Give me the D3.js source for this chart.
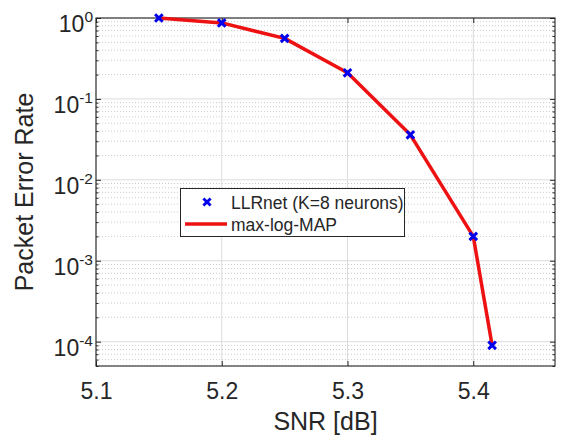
<!DOCTYPE html>
<html>
<head>
<meta charset="utf-8">
<script src="https://cdn.jsdelivr.net/npm/d3@7"></script>
<style>
  html, body { margin: 0; padding: 0; background: #fff; }
  svg { display: block; font-family: "Liberation Sans", Arial, sans-serif; }
</style>
</head>
<body>
<svg id="chart" width="563" height="441"></svg>
<script>
// ---- data ----
const snr = [5.15, 5.2, 5.25, 5.3, 5.35, 5.4, 5.415];
const llrnetPER = [1.0, 0.87, 0.56, 0.21, 0.036, 0.002, 0.00009];
const maxLogMapPER = [1.0, 0.87, 0.56, 0.21, 0.036, 0.002, 0.00009];
const xTicks = [5.1, 5.2, 5.3, 5.4];
const xTickLabels = ["5.1", "5.2", "5.3", "5.4"];
const yTicks = [1, 0.1, 0.01, 0.001, 0.0001];
const yTickExponents = ["0", "-1", "-2", "-3", "-4"];
const seriesNames = ["LLRnet (K=8 neurons)", "max-log-MAP"];
const xLabel = "SNR [dB]";
const yLabel = "Packet Error Rate";

// ---- layout ----
const L = 96, R = 555, T = 18, B = 366;
const axisColor = "#262626";
const svg = d3.select("#chart");

const x = d3.scaleLinear().domain([5.1, 5.465]).range([L, R]);
const y = d3.scaleLog().domain([5e-5, 1]).range([B, T]);

// minor positions
const minorY = [];
for (let e = -5; e <= 0; e++) {
  for (let m = 2; m <= 9; m++) {
    const v = m * Math.pow(10, e);
    if (v >= 5e-5 && v < 1) minorY.push(v);
  }
}

const grid = svg.append("g");
// minor grid (dotted)
grid.selectAll("line.minor").data(minorY).enter().append("line")
  .attr("x1", L).attr("x2", R)
  .attr("y1", d => y(d)).attr("y2", d => y(d))
  .attr("stroke", "#bdbdbd").attr("stroke-width", 0.8)
  .attr("stroke-dasharray", "1,2");
// major grid
grid.selectAll("line.majy").data(yTicks).enter().append("line")
  .attr("x1", L).attr("x2", R)
  .attr("y1", d => y(d)).attr("y2", d => y(d))
  .attr("stroke", "#dcdcdc").attr("stroke-width", 1);
grid.selectAll("line.majx").data(xTicks).enter().append("line")
  .attr("y1", T).attr("y2", B)
  .attr("x1", d => x(d)).attr("x2", d => x(d))
  .attr("stroke", "#dcdcdc").attr("stroke-width", 1);

// ---- axes with D3 axis generators (inward ticks, box) ----
function styleAxis(g) {
  g.select(".domain").remove();
  g.selectAll(".tick line").attr("stroke", axisColor).attr("stroke-width", 1);
}
const xAxisB = d3.axisBottom(x).tickValues(xTicks).tickSize(-5).tickFormat((d, i) => xTickLabels[i]);
const gxb = svg.append("g").attr("transform", `translate(0,${B})`).call(xAxisB).call(styleAxis);
gxb.selectAll(".tick text").attr("y", 0).attr("dy", 33)
  .attr("font-size", 23).attr("fill", axisColor)
  .attr("font-family", "Liberation Sans, Arial, sans-serif");

const xAxisT = d3.axisTop(x).tickValues(xTicks).tickSize(-5).tickFormat("");
svg.append("g").attr("transform", `translate(0,${T})`).call(xAxisT).call(styleAxis);

const yAxisL = d3.axisLeft(y).tickValues(yTicks).tickSize(-5).tickFormat("");
svg.append("g").attr("transform", `translate(${L},0)`).call(yAxisL).call(styleAxis);
const yAxisLm = d3.axisLeft(y).tickValues(minorY).tickSize(-2.5).tickFormat("");
svg.append("g").attr("transform", `translate(${L},0)`).call(yAxisLm).call(styleAxis);
const yAxisR = d3.axisRight(y).tickValues(yTicks).tickSize(-5).tickFormat("");
svg.append("g").attr("transform", `translate(${R},0)`).call(yAxisR).call(styleAxis);
const yAxisRm = d3.axisRight(y).tickValues(minorY).tickSize(-2.5).tickFormat("");
svg.append("g").attr("transform", `translate(${R},0)`).call(yAxisRm).call(styleAxis);

// y tick labels with superscripts
const ylab = svg.append("g");
yTicks.forEach((v, i) => {
  const t = ylab.append("text")
    .attr("x", 93).attr("y", y(v) + 14)
    .attr("text-anchor", "end").attr("fill", axisColor)
    .attr("font-size", 23);
  t.append("tspan").text("10");
  t.append("tspan").attr("dy", -10).attr("font-size", 15.5).text(yTickExponents[i]);
});

// box
svg.append("rect").attr("x", L).attr("y", T).attr("width", R - L).attr("height", B - T)
  .attr("fill", "none").attr("stroke", axisColor).attr("stroke-width", 1.1);

// axis labels
svg.append("text").attr("x", (L + R) / 2).attr("y", 430)
  .attr("text-anchor", "middle").attr("font-size", 25).attr("fill", axisColor)
  .text(xLabel);
svg.append("text")
  .attr("transform", `translate(33,${(T + B) / 2}) rotate(-90)`)
  .attr("text-anchor", "middle").attr("font-size", 25).attr("fill", axisColor)
  .text(yLabel);

// ---- series ----
const lineData = snr.map((s, i) => [s, maxLogMapPER[i]]);
svg.append("path").datum(lineData)
  .attr("d", d3.line().x(d => x(d[0])).y(d => y(d[1])))
  .attr("fill", "none").attr("stroke", "#ee1111").attr("stroke-width", 3.5)
  .attr("stroke-linejoin", "round");

const xMarker = (s) => `M${-s},${-s}L${s},${s}M${-s},${s}L${s},${-s}`;
svg.append("g").selectAll("path").data(snr.map((s, i) => [s, llrnetPER[i]])).enter()
  .append("path")
  .attr("transform", d => `translate(${x(d[0])},${y(d[1])})`)
  .attr("d", xMarker(3.8))
  .attr("stroke", "#0000ee").attr("stroke-width", 3).attr("fill", "none");

// ---- legend ----
const lg = svg.append("g");
lg.append("rect").attr("x", 180.5).attr("y", 188.5).attr("width", 224).attr("height", 48)
  .attr("fill", "#fff").attr("stroke", axisColor).attr("stroke-width", 1);
lg.append("path").attr("transform", "translate(207,202)").attr("d", xMarker(3.6))
  .attr("stroke", "#0000ee").attr("stroke-width", 2.8).attr("fill", "none");
lg.append("text").attr("x", 231).attr("y", 209).attr("font-size", 17.5).attr("fill", axisColor)
  .text(seriesNames[0]);
lg.append("line").attr("x1", 185).attr("x2", 227).attr("y1", 224).attr("y2", 224)
  .attr("stroke", "#ee1111").attr("stroke-width", 3.5);
lg.append("text").attr("x", 231).attr("y", 231).attr("font-size", 17.5).attr("fill", axisColor)
  .text(seriesNames[1]);
</script>
</body>
</html>
